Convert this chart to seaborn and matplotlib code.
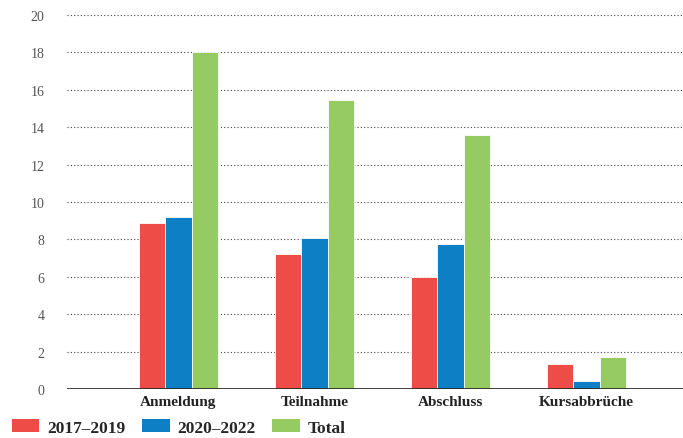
import pandas as pd
import seaborn as sns
import matplotlib.pyplot as plt
from matplotlib.patches import Patch

# values
categories = ["Anmeldung", "Teilnahme", "Abschluss", "Kursabbrüche"]
periods = ["2017–2019", "2020–2022", "Total"]
vals_2017_2019 = [8.9, 7.2, 6.0, 1.35]
vals_2020_2022 = [9.2, 8.1, 7.75, 0.45]
vals_total = [18.0, 15.45, 13.6, 1.7]
colors = ["#EE4D47", "#0D7FC4", "#96CB64"]

df = pd.DataFrame({
    "Kategorie": categories * 3,
    "Zeitraum": [periods[0]] * 4 + [periods[1]] * 4 + [periods[2]] * 4,
    "Wert": vals_2017_2019 + vals_2020_2022 + vals_total,
})

sns.set_style("white")
plt.rcParams["font.family"] = ["Liberation Serif", "DejaVu Serif"]

fig = plt.figure(figsize=(6.83, 4.39), dpi=100)
ax = fig.add_axes([0.098, 0.1116, 0.902, 0.852])

sns.barplot(data=df, x="Kategorie", y="Wert", hue="Zeitraum", order=categories,
            hue_order=periods, palette=colors, saturation=1, width=0.585, gap=0,
            edgecolor="white", linewidth=0.6, ax=ax, legend=False, zorder=3)

ax.set_xlim(-0.82, 3.71)
ax.set_ylim(0, 20)
ax.set_yticks(range(0, 21, 2))
ax.yaxis.grid(True, linestyle=(0, (1, 2)), color="#444444", linewidth=0.8, zorder=0)
ax.set_axisbelow(True)
ax.axhline(0, color="#222222", linewidth=1.2, zorder=4)
for s in ax.spines.values():
    s.set_visible(False)

ax.set_xlabel("")
ax.set_ylabel("")
ax.tick_params(axis="y", length=0, pad=16, labelsize=10, labelcolor="#555555")
ax.tick_params(axis="x", length=0, pad=4, labelsize=11)
for t in ax.get_xticklabels():
    t.set_fontweight("bold")
    t.set_color("#222222")

handles = [Patch(facecolor=c, edgecolor="none", label=p) for c, p in zip(colors, periods)]
fig.legend(handles=handles, loc="lower left", bbox_to_anchor=(-0.006, -0.03), ncol=3,
           frameon=False, prop={"weight": "bold", "size": 12.5},
           handlelength=1.6, handleheight=0.75, handletextpad=0.45, columnspacing=0.95)

fig.savefig("out.png", dpi=100)
